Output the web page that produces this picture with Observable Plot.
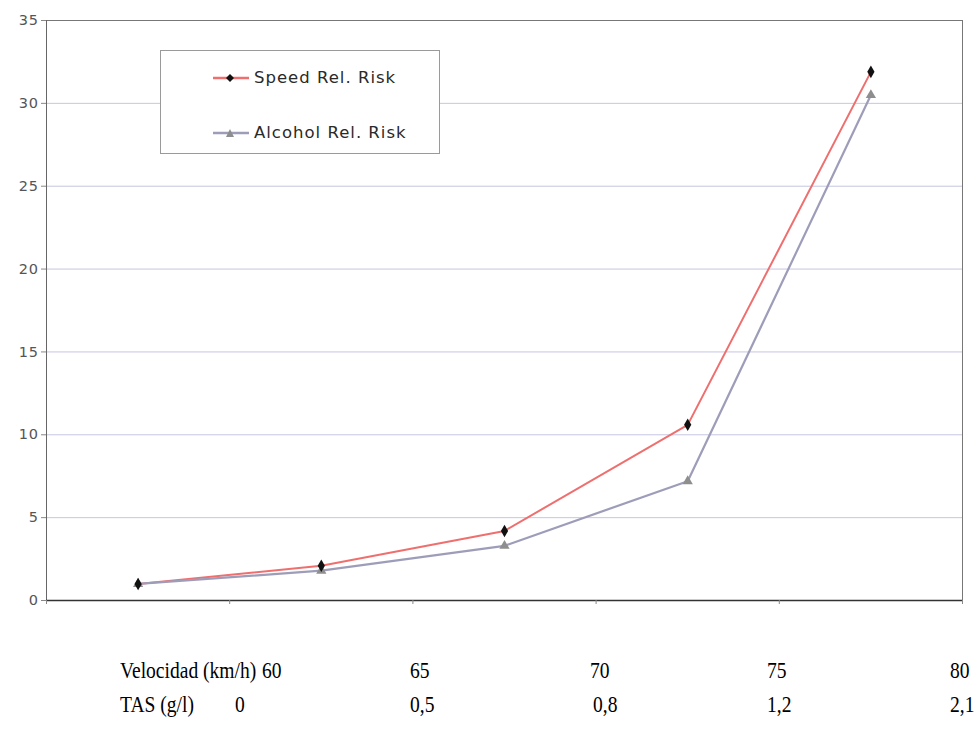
<!DOCTYPE html>
<html>
<head>
<meta charset="utf-8">
<script src="https://cdn.jsdelivr.net/npm/d3@7"></script>
<script src="https://cdn.jsdelivr.net/npm/@observablehq/plot@0.6"></script>
<style>
  html, body { margin: 0; padding: 0; background: #fff; }
  #wrap { position: relative; width: 980px; height: 736px; overflow: hidden; }
  #legend {
    position: absolute; left: 160px; top: 50px; width: 280px; height: 104px;
    border: 1px solid #9a9a9a; background: #fff; box-sizing: border-box;
    font-family: "DejaVu Sans", Verdana, sans-serif; font-size: 16.5px; letter-spacing: 1px; color: #2a2a2a;
  }
  .lg-row { position: absolute; left: 50px; display: flex; align-items: center; gap: 3px; }
  .row { position: absolute; font-family: "Liberation Serif", "Times New Roman", serif; font-size: 23px; color: #000; white-space: nowrap; }
  .row span { position: absolute; top: 0; transform: scaleX(0.85); transform-origin: 0 50%; }
  svg.chart text { letter-spacing: 0.6px; }
</style>
</head>
<body>
<div id="wrap"></div>
<script>
// Categories along the x axis: speed (km/h) and the matching blood alcohol level (g/l)
const speedKmh = ["60", "65", "70", "75", "80"];
const tasGl = ["0", "0,5", "0,8", "1,2", "2,1"];

// Relative crash risk for each category
const speedRisk = [1.0, 2.1, 4.2, 10.6, 31.9];
const alcoholRisk = [1.0, 1.8, 3.3, 7.2, 30.5];

// Y tick values
const yTicks = [0, 5, 10, 15, 20, 25, 30, 35];

const seriesNames = ["Speed Rel. Risk", "Alcohol Rel. Risk"];
const seriesColors = ["#ef6f6f", "#9d9dba"];
const markerColors = ["#111111", "#8e8e8e"];
const markerSymbols = ["diamond", "triangle"];

const speedRows = speedRisk.map((v, i) => ({pos: i + 1, value: v}));
const alcoholRows = alcoholRisk.map((v, i) => ({pos: i + 1, value: v}));
const bounds = d3.range(0, speedKmh.length + 1).map(i => i + 0.5);

const chart = Plot.plot({
  className: "chart",
  width: 980,
  height: 620,
  marginLeft: 46,
  marginRight: 18,
  marginTop: 20,
  marginBottom: 20,
  style: {fontFamily: "'DejaVu Sans', Verdana, sans-serif", fontSize: "14.5px", color: "#555", background: "#fff"},
  x: {type: "linear", domain: [0.5, speedKmh.length + 0.5]},
  y: {domain: [0, 35]},
  marks: [
    Plot.gridY(yTicks, {stroke: "#c6c6e2", strokeOpacity: 1, strokeWidth: 1}),
    Plot.frame({stroke: "#777", strokeWidth: 1}),
    Plot.ruleX([0.5], {stroke: "#666", strokeWidth: 1}),
    Plot.ruleY([0], {stroke: "#333", strokeWidth: 1.6}),
    Plot.axisY({ticks: yTicks, tickSize: 5, tickPadding: 3, label: null, fill: "#555", stroke: "#888"}),
    Plot.axisX({ticks: bounds, tickSize: 4, tickFormat: () => "", label: null, stroke: "#888"}),
    Plot.line(speedRows, {x: "pos", y: "value", stroke: seriesColors[0], strokeWidth: 2}),
    Plot.line(alcoholRows, {x: "pos", y: "value", stroke: seriesColors[1], strokeWidth: 2.2}),
    Plot.dot(alcoholRows, {x: "pos", y: "value", symbol: markerSymbols[1], fill: markerColors[1], r: 3.8}),
    Plot.dot(speedRows, {x: "pos", y: "value", symbol: markerSymbols[0], fill: markerColors[0], r: 3.8})
  ]
});

const wrap = document.getElementById("wrap");
wrap.appendChild(chart);

// Legend box
const legend = document.createElement("div");
legend.id = "legend";
seriesNames.forEach((name, i) => {
  const row = document.createElement("div");
  row.className = "lg-row";
  row.style.top = (i === 0 ? 17 : 72) + "px";
  const sym = markerSymbols[i] === "diamond"
    ? `<path d="M19,2 L23,6 L19,10 L15,6 Z" fill="${markerColors[i]}"/>`
    : `<path d="M19,2 L23,10 L15,10 Z" fill="${markerColors[i]}"/>`;
  row.innerHTML = `<svg width="40" height="12"><line x1="2" x2="38" y1="6" y2="6" stroke="${seriesColors[i]}" stroke-width="2.5"/>${sym}</svg><span>${name}</span>`;
  legend.appendChild(row);
});
wrap.appendChild(legend);

// Category rows under the chart
function addRow(label, values, top, labelLeft, lefts) {
  const row = document.createElement("div");
  row.className = "row";
  row.style.top = top + "px";
  row.style.left = "0px";
  const l = document.createElement("span");
  l.textContent = label;
  l.style.left = labelLeft + "px";
  row.appendChild(l);
  values.forEach((v, i) => {
    const s = document.createElement("span");
    s.textContent = v;
    s.style.left = lefts[i] + "px";
    row.appendChild(s);
  });
  wrap.appendChild(row);
}
addRow("Velocidad (km/h)", speedKmh, 658, 120, [262, 410, 590, 767, 950]);
addRow("TAS (g/l)", tasGl, 692, 120, [235, 410, 593, 767, 950]);
</script>
</body>
</html>
